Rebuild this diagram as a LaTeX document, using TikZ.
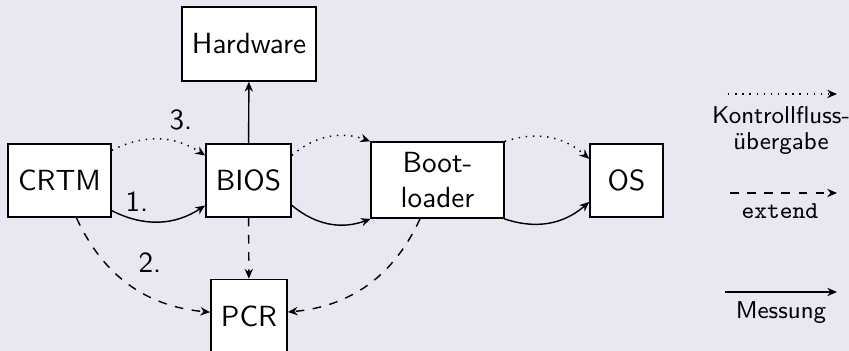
\documentclass[tikz,border=0pt]{standalone}
\usetikzlibrary{arrows.meta}
\definecolor{bgcol}{RGB}{232,232,242}
\begin{document}
\begin{tikzpicture}[x=0.35pt, y=-0.35pt,
    font=\sffamily\fontsize{10.2}{12.3}\selectfont,
    box/.style={draw, line width=0.6pt, fill=white, inner sep=0pt, align=center},
    conn/.style={-{Stealth[length=3.4pt,width=2.9pt,inset=1.1pt]}, line width=0.5pt},
    ctrl/.style={conn, dotted},
    ext/.style={conn, dashed},
    meas/.style={conn},
    lbl/.style={inner sep=0pt},
    legtext/.style={inner sep=0pt, align=center, font=\sffamily\fontsize{8.5}{9.1}\selectfont}]
  % canvas
  \fill[bgcol] (0,0) rectangle (849,351);
  \useasboundingbox (0,0) rectangle (849,351);

  % components of the boot chain
  \node[box, minimum width=103*0.35pt, minimum height=73*0.35pt] (crtm) at (59.5,180.5) {CRTM};
  \node[box, minimum width=85*0.35pt, minimum height=73*0.35pt] (bios) at (248.5,180.5) {BIOS};
  \node[box, minimum width=134*0.35pt, minimum height=74*0.35pt] (hw) at (249,44) {Hardware};
  \node[box, minimum width=76*0.35pt, minimum height=73*0.35pt] (pcr) at (249,316) {PCR};
  \node[box, minimum width=133*0.35pt, minimum height=76*0.35pt] (boot) at (437.5,180) {Boot-\\loader};
  \node[box, minimum width=73*0.35pt, minimum height=73*0.35pt] (os) at (626.5,180.5) {OS};

  % control flow handover
  \draw[ctrl] (crtm) to[bend left] (bios);
  \draw[ctrl] (bios) to[bend left] (boot);
  \draw[ctrl] (boot) to[bend left] (os);

  % measurements
  \draw[meas] (crtm) to[bend right] (bios);
  \draw[meas] (bios) to[bend right] (boot);
  \draw[meas] (boot) to[bend right] (os);
  \draw[meas] (bios) -- (hw);

  % extend operations into the PCR
  \draw[ext] (crtm) to[bend right] (pcr);
  \draw[ext] (bios) -- (pcr);
  \draw[ext] (boot) to[bend left] (pcr);

  % step numbers
  \node[lbl] (n1) at (137,202) {1.};
  \node[lbl] (n2) at (150,263) {2.};
  \node[lbl] (n3) at (181,120) {3.};

  % legend
  \coordinate (l1a) at (728,94);  \coordinate (l1b) at (837,94);
  \coordinate (l2a) at (730,193); \coordinate (l2b) at (837,193);
  \coordinate (l3a) at (725,292); \coordinate (l3b) at (837,292);
  \draw[ctrl] (l1a) -- (l1b);
  \draw[ext] (l2a) -- (l2b);
  \draw[meas] (l3a) -- (l3b);
  \node[legtext, anchor=north] (t1) at (781,106) {Kontrollfluss-\\übergabe};
  \node[legtext, anchor=north] (t2) at (780,203) {\ttfamily extend};
  \node[legtext, anchor=north] (t3) at (781,301) {Messung};
\end{tikzpicture}
\end{document}
